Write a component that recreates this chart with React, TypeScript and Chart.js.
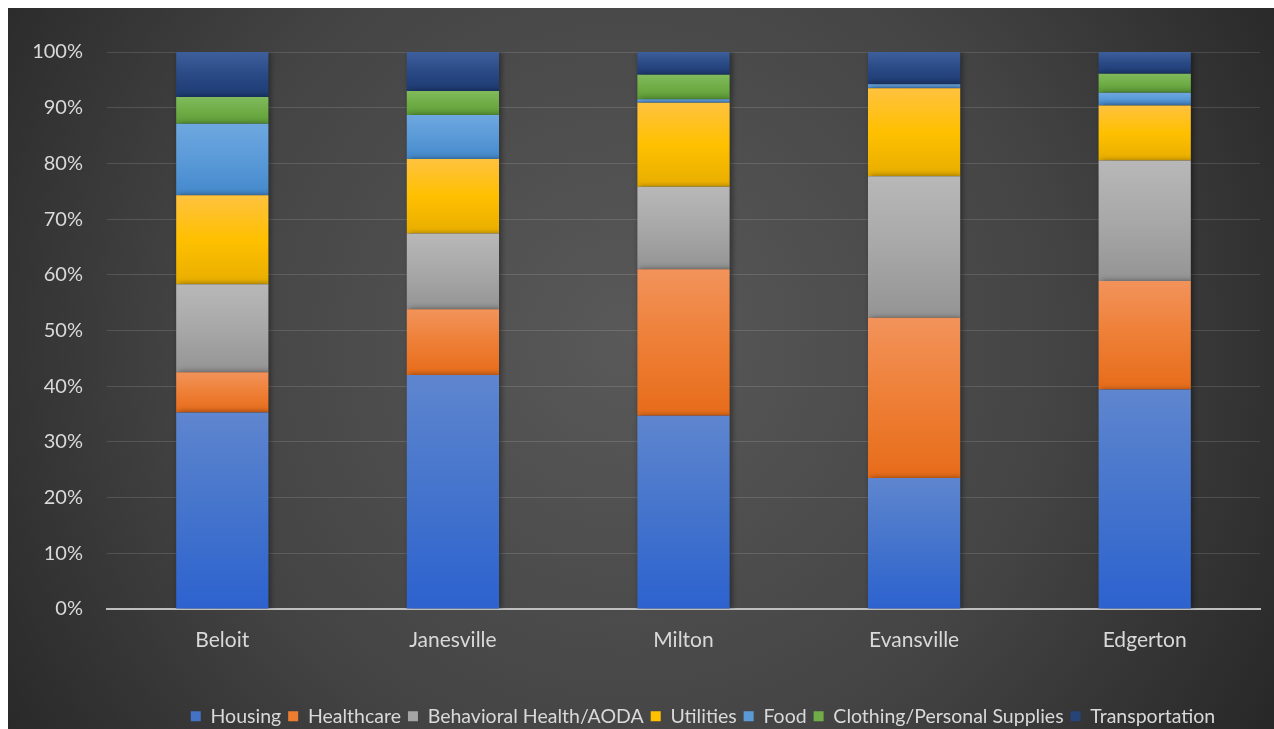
import { useEffect, useRef } from 'react';
import { Chart, registerables } from 'chart.js';

Chart.register(...registerables);

const categories = ['Beloit', 'Janesville', 'Milton', 'Evansville', 'Edgerton'];
const seriesNames = ['Housing', 'Healthcare', 'Behavioral Health/AODA', 'Utilities', 'Food', 'Clothing/Personal Supplies', 'Transportation'];
const housing = [35.3, 42.0, 34.7, 23.5, 39.4];
const healthcare = [7.2, 11.8, 26.3, 28.8, 19.5];
const behavioral = [15.8, 13.6, 14.8, 25.4, 21.6];
const utilities = [16.0, 13.4, 15.1, 15.8, 9.9];
const food = [12.8, 7.9, 0.6, 0.7, 2.3];
const clothing = [4.8, 4.3, 4.4, 0.0, 3.4];
const transportation = [8.1, 7.0, 4.1, 5.8, 3.9];
const yTicks = [0, 10, 20, 30, 40, 50, 60, 70, 80, 90, 100];

const seriesValues = [housing, healthcare, behavioral, utilities, food, clothing, transportation];
const solidColors = ['#4472C4', '#ED7D31', '#A5A5A5', '#FFC000', '#5B9BD5', '#70AD47', '#264478'];
const gradientStops = [
  ['#5f86cf', '#4474cc', '#2d62cf'],
  ['#f2935b', '#ee7f36', '#e76c1a'],
  ['#b8b8b8', '#a8a8a8', '#949494'],
  ['#ffc23f', '#ffc000', '#e8ae00'],
  ['#6ea8e0', '#5a9ad8', '#4489cc'],
  ['#80ba5c', '#70ad47', '#5e9e38'],
  ['#3d5f9b', '#2a4a86', '#1d3a72'],
];

const W = 1266;
const H = 760;
const PAD_BOTTOM = 32;
const LEGEND_PAD = 7;
const LEGEND_FONT = 19.5;

export default function App() {
  const ref = useRef<HTMLCanvasElement | null>(null);

  useEffect(() => {
    const canvas = ref.current;
    if (!canvas) return;

    const bgPlugin = {
      id: 'bgPlugin',
      beforeDraw(chart: any) {
        const ctx = chart.ctx;
        const g = ctx.createRadialGradient(620, 330, 0, 620, 330, 780);
        g.addColorStop(0, '#595959');
        g.addColorStop(0.55, '#444444');
        g.addColorStop(1, '#252525');
        ctx.save();
        ctx.fillStyle = g;
        ctx.fillRect(0, 0, chart.width, chart.height);
        ctx.restore();
      },
    };

    const shadowPlugin = {
      id: 'shadowPlugin',
      beforeDatasetsDraw(chart: any) {
        const ctx = chart.ctx;
        ctx.save();
        ctx.shadowColor = 'rgba(0,0,0,0.45)';
        ctx.shadowBlur = 6;
        ctx.shadowOffsetX = 2;
        ctx.shadowOffsetY = 0;
      },
      afterDatasetsDraw(chart: any) {
        chart.ctx.restore();
      },
    };

    const legendShift = {
      id: 'legendShift',
      afterLayout(chart: any) {
        const lg = chart.legend;
        if (lg) {
          lg.left += 69;
          lg.right += 69;
        }
      },
    };

    const makeBg = (si: number) => (c: any) => {
      if (c.type !== 'data') return solidColors[si];
      const chart = c.chart;
      const y = chart.scales && chart.scales.y;
      if (!y || !chart.chartArea) return solidColors[si];
      let sum = 0;
      for (let k = 0; k <= si; k++) sum += seriesValues[k][c.dataIndex];
      const top = y.getPixelForValue(sum);
      const bottom = y.getPixelForValue(sum - seriesValues[si][c.dataIndex]);
      if (!isFinite(top) || !isFinite(bottom) || Math.abs(bottom - top) < 0.5) return solidColors[si];
      const g = chart.ctx.createLinearGradient(0, top, 0, bottom);
      g.addColorStop(0, gradientStops[si][0]);
      g.addColorStop(0.5, gradientStops[si][1]);
      g.addColorStop(1, gradientStops[si][2]);
      return g;
    };

    const chart = new Chart(canvas, {
      type: 'bar',
      data: {
        labels: categories,
        datasets: seriesNames.map((name, i) => ({
          label: name,
          data: seriesValues[i],
          backgroundColor: makeBg(i),
          borderWidth: 0,
          barPercentage: 0.4,
          categoryPercentage: 1,
        })),
      },
      plugins: [bgPlugin, shadowPlugin, legendShift],
      options: {
        responsive: false,
        animation: false,
        devicePixelRatio: 1,
        layout: { padding: { left: 0, right: 14, top: 44, bottom: PAD_BOTTOM } },
        plugins: {
          tooltip: { enabled: false },
          legend: {
            position: 'bottom',
            labels: {
              generateLabels: () =>
                seriesNames.map((n, i) => ({
                  text: n,
                  fillStyle: solidColors[i],
                  strokeStyle: solidColors[i],
                  lineWidth: 0,
                  hidden: false,
                  datasetIndex: i,
                  fontColor: '#d9d9d9',
                })),
              color: '#d9d9d9',
              boxWidth: 10,
              boxHeight: 10,
              padding: LEGEND_PAD,
              font: { family: 'Lato', size: LEGEND_FONT },
            },
          },
        },
        scales: {
          x: {
            stacked: true,
            grid: { display: false, drawTicks: false },
            border: { display: true, color: '#bfbfbf', width: 2 },
            ticks: { color: '#d9d9d9', font: { family: 'Lato', size: 21 }, padding: 19 },
            afterFit: (s: any) => {
              s.height = H - PAD_BOTTOM - (LEGEND_FONT + LEGEND_PAD + 10) - 601;
            },
          },
          y: {
            stacked: true,
            min: 0,
            max: 100,
            afterBuildTicks: (s: any) => {
              s.ticks = yTicks.map((v) => ({ value: v }));
            },
            grid: { color: 'rgba(255,255,255,0.13)', lineWidth: 1, drawTicks: false },
            border: { display: false },
            ticks: {
              color: '#d9d9d9',
              font: { family: 'Lato', size: 20 },
              padding: 24,
              callback: (v: any) => v + '%',
            },
            afterFit: (s: any) => {
              s.width = 99;
            },
          },
        },
      },
    } as any);

    return () => chart.destroy();
  }, []);

  return (
    <div style={{ position: 'fixed', left: 8, top: 8, width: W, height: 740, overflow: 'hidden' }}>
      <canvas ref={ref} width={W} height={H} style={{ display: 'block', width: W, height: H }} />
    </div>
  );
}
